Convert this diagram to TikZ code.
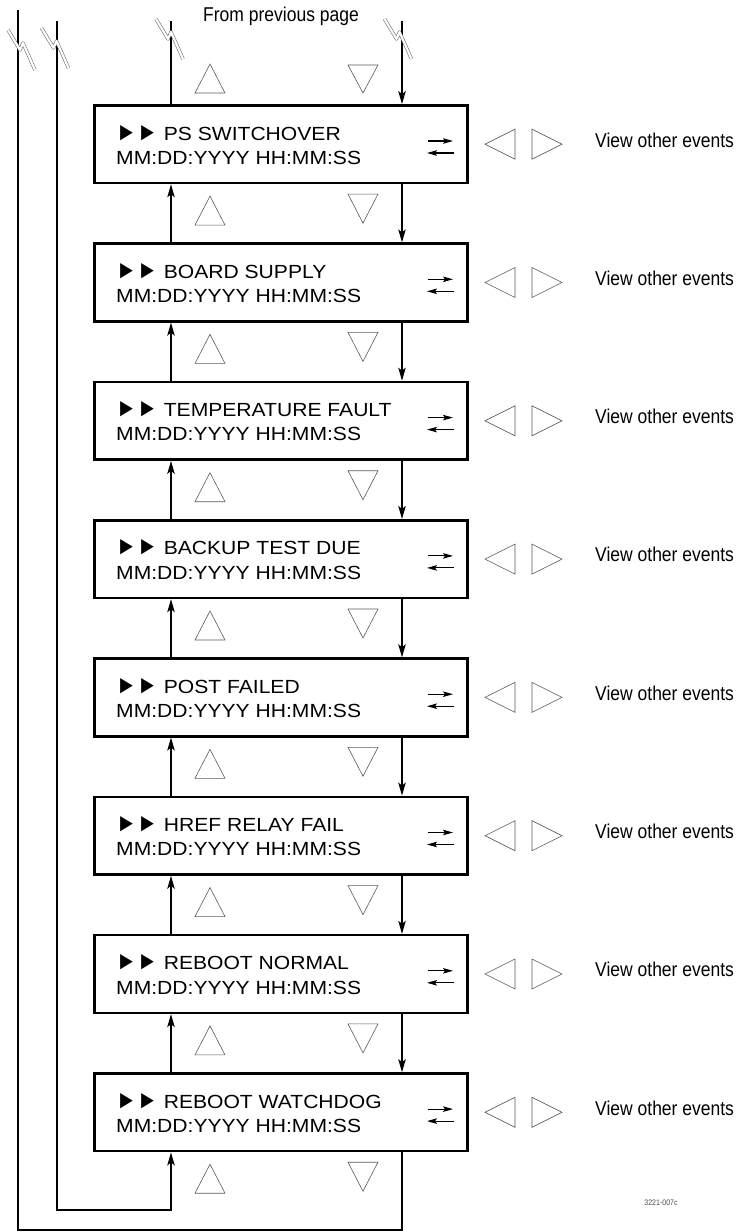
\documentclass[tikz,border=0pt]{standalone}
\usepackage{fontspec}
\setmainfont{Liberation Sans}
\newfontfamily\boxfont[FakeStretch=1.11]{Liberation Sans}
\newfontfamily\narrowfont[FakeStretch=0.875]{Liberation Sans}
\usetikzlibrary{arrows.meta}
\newcommand\ptr{\scalebox{1}[1.35]{►}}
\begin{document}
\begin{tikzpicture}[x=1pt,y=-1pt,
  evbox/.style={draw, line width=2.6pt, minimum width=373pt, minimum height=77.7pt, inner sep=0pt},
  lineone/.style={anchor=base west, inner sep=0pt, font=\boxfont\fontsize{19}{23}\selectfont},
  viewtxt/.style={anchor=base west, inner sep=0pt, font=\narrowfont\fontsize{20}{23}\selectfont},
  conn/.style={line width=1.1pt},
  arr/.style={conn, -{Stealth[length=13pt,width=7.5pt,inset=3pt]}},
  swaparr/.style={line width=1.1pt, -{Stealth[length=10pt,width=5.5pt,inset=2pt]}},
  keytri/.style={draw=black!65, line width=0.6pt, line join=miter},
  brkmark/.pic={\draw[black!60, line width=0.55pt, double=white, double distance=2.2pt, line join=round]
     (-13,-20) -- (-1,0) -- (2,-7) -- (14,20);}
]
\useasboundingbox (0,0) rectangle (740,1232);
\coordinate (ux) at (171,0);
\coordinate (dx) at (402,0);

\node[viewtxt] (fpp) at (203,21) {From previous page};

\foreach \i/\t in {1/PS SWITCHOVER, 2/BOARD SUPPLY, 3/TEMPERATURE FAULT, 4/BACKUP TEST DUE,
                   5/POST FAILED, 6/HREF RELAY FAIL, 7/REBOOT NORMAL, 8/REBOOT WATCHDOG}{
  \pgfmathsetmacro\cy{144.2+138.3*(\i-1)}
  \node[evbox] (b\i) at (281.2,\cy) {};
  \node[lineone] (ta\i) at (116,\cy-4.2) {\ptr\ptr{} \t};
  \node[lineone] (tb\i) at (116,\cy+20) {MM:DD:YYYY HH:MM:SS};
  \draw[swaparr] (428,\cy-3.2) -- (453,\cy-3.2);
  \draw[swaparr] (454,\cy+8.8) -- (427,\cy+8.8);
  \draw[keytri] (485,\cy) -- (515,\cy-15) -- (515,\cy+15) -- cycle;
  \draw[keytri] (562,\cy) -- (532,\cy-15) -- (532,\cy+15) -- cycle;
  \node[viewtxt] (v\i) at (595,\cy+2.8) {View other events};
  \pgfmathsetmacro\by{\cy+38.9}
  \draw[keytri] (210,\by+13) -- (225,\by+42) -- (195,\by+42) -- cycle;
  \draw[keytri] (348,\by+11) -- (378,\by+11) -- (363,\by+40) -- cycle;
}
% top key triangles
\draw[keytri] (210,64) -- (225,93) -- (195,93) -- cycle;
\draw[keytri] (348,65) -- (378,65) -- (363,93) -- cycle;

% connectors between boxes
\foreach \i [evaluate=\i as \j using int(\i+1)] in {1,...,7}{
  \draw[arr] (b\j.north -| ux) -- (b\i.south -| ux);
  \draw[arr] (b\i.south -| dx) -- (b\j.north -| dx);
}
% top connectors
\coordinate (t1) at (171,21);
\coordinate (t2) at (402,21);
\draw[conn] (b1.north -| ux) -- (t1);
\draw[arr] (t2) -- (b1.north -| dx);

% outer loops
\coordinate (l1top) at (18,10);
\coordinate (l1bot) at (18,1230);
\coordinate (l2top) at (57,21);
\coordinate (l2bot) at (57,1210);
\draw[arr] (l2top) -- (l2bot) -| (b8.south -| ux);
\draw[conn] (b8.south -| dx) |- (l1bot) -- (l1top);

% break marks
\pic at (21,50) {brkmark};
\pic at (54.5,48) {brkmark};
\pic at (169,39) {brkmark};
\pic at (397.5,39) {brkmark};

\node[inner sep=0pt, text=black!70, font=\narrowfont\fontsize{8}{9}\selectfont] (fig) at (661,1203) {3221-007c};
\end{tikzpicture}
\end{document}
